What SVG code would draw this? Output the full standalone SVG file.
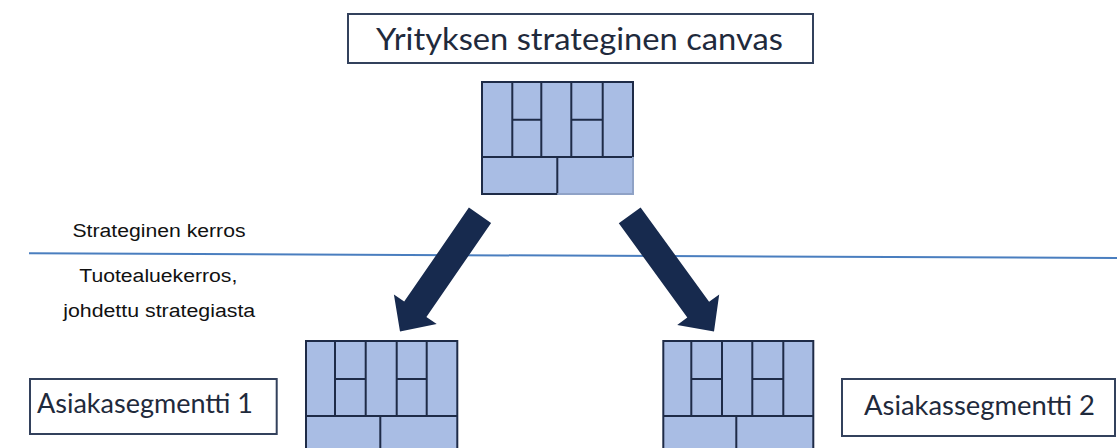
<svg xmlns="http://www.w3.org/2000/svg" width="1117" height="448" viewBox="0 0 1117 448">
  <style>
    .box { fill: #ffffff; stroke: #33415c; stroke-width: 2; }
    .title { font-family: Lato, "Noto Sans", sans-serif; font-size: 31px; fill: #1f2a3c; }
    .seg { font-family: Lato, "Noto Sans", sans-serif; font-size: 27px; fill: #1f2a3c; }
    .label { font-family: "Liberation Sans", Arial, sans-serif; font-size: 18px; fill: #111111; text-anchor: middle; }
    .cell { fill: #a9bde4; }
    .grid { stroke: #1e2b47; stroke-width: 2; fill: none; stroke-linecap: square; }
    .faint { stroke: #8fa2c6; stroke-width: 2; fill: none; }
    .arrow { fill: #172a4e; }
  </style>

  <!-- Company-level strategic canvas -->
  <g id="title-strategic">
    <rect class="box" x="348" y="14" width="465" height="49"/>
    <text class="title" x="376" y="50" textLength="407" lengthAdjust="spacingAndGlyphs">Yrityksen strateginen canvas</text>
  </g>

  <g id="canvas-top">
    <rect class="cell" x="482" y="82" width="151" height="112"/>
    <path class="grid" d="M482 194 V82 H633 V157 M482 157 H633 M482 194 H557.3 V157
                          M512.3 82 V157 M541.3 82 V157 M571.3 82 V157 M602.7 82 V157
                          M512.3 119.7 H541.3 M571.3 119.7 H602.7"/>
    <path class="faint" d="M557.3 194 H633 V157"/>
  </g>

  <!-- Layer separator -->
  <g id="layer-line">
    <line x1="29" y1="253.3" x2="1117" y2="258" stroke="#4a7ebf" stroke-width="2"/>
    <text class="label" x="159" y="237" textLength="173" lengthAdjust="spacingAndGlyphs">Strateginen kerros</text>
    <text class="label" x="158.3" y="282" textLength="158" lengthAdjust="spacingAndGlyphs">Tuotealuekerros,</text>
    <text class="label" x="159.2" y="317" textLength="192" lengthAdjust="spacingAndGlyphs">johdettu strategiasta</text>
  </g>

  <!-- Derivation arrows -->
  <g id="connectors">
    <polygon class="arrow" points="468.9,207.6 491.1,223 426.4,317 436.7,324 400,331.5 393.9,294.6 404.2,301.6"/>
    <polygon class="arrow" points="640.6,207.4 618.8,223.2 687.3,317.6 677.2,325 714,331.5 719.2,294.4 709.1,301.8"/>
  </g>

  <!-- Segment canvases -->
  <g id="canvas-segment-1">
    <rect class="cell" x="306" y="341" width="151.3" height="120"/>
    <path class="grid" d="M306 460 V341 H457.3 V460 M306 416 H457.3 M380.3 416 V460
                          M335 341 V416 M365.7 341 V416 M396.7 341 V416 M426.7 341 V416
                          M335 379 H365.7 M396.7 379 H426.7"/>
  </g>

  <g id="canvas-segment-2">
    <rect class="cell" x="663.3" y="341" width="150" height="120"/>
    <path class="grid" d="M663.3 460 V341 H813.3 V460 M663.3 416 H813.3 M736.3 416 V460
                          M691.3 341 V416 M722 341 V416 M752.3 341 V416 M783.3 341 V416
                          M691.3 379 H722 M752.3 379 H783.3"/>
  </g>

  <g id="segment-1">
    <rect class="box" x="30" y="379" width="246.7" height="55"/>
    <text class="seg" x="37" y="413" textLength="216" lengthAdjust="spacingAndGlyphs">Asiakasegmentti 1</text>
  </g>

  <g id="segment-2">
    <rect class="box" x="842" y="379" width="273" height="57"/>
    <text class="seg" x="864" y="415" textLength="231" lengthAdjust="spacingAndGlyphs">Asiakassegmentti 2</text>
  </g>
</svg>
